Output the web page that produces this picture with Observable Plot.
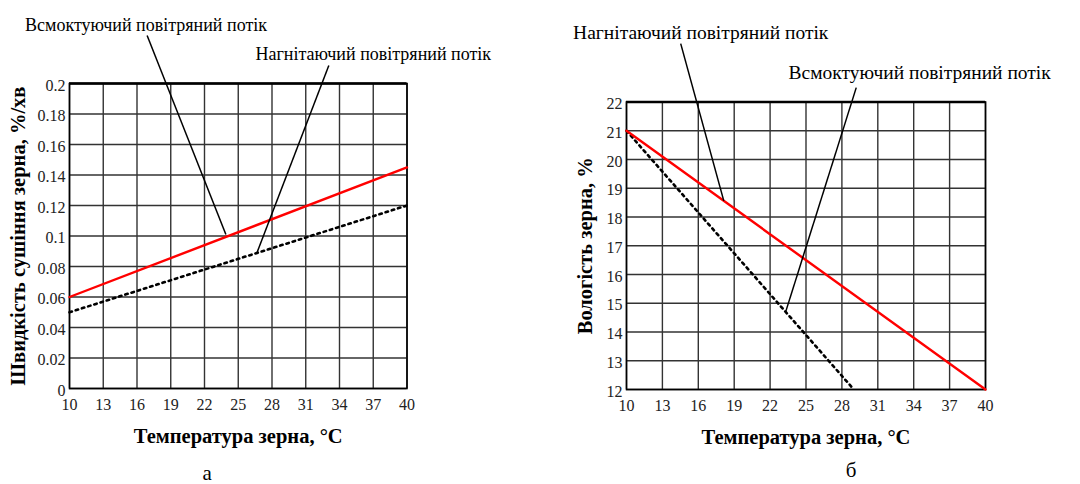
<!DOCTYPE html>
<html>
<head>
<meta charset="utf-8">
<script src="https://cdn.jsdelivr.net/npm/d3@7"></script>
<script src="https://cdn.jsdelivr.net/npm/@observablehq/plot@0.6"></script>
<style>
  html, body { margin: 0; padding: 0; background: #fff; }
  #wrap { position: relative; width: 1080px; height: 484px; overflow: hidden; }
  #left, #right { position: absolute; top: 0; }
  #left { left: 0; }
  #right { left: 540px; }
</style>
</head>
<body>
<div id="wrap"><div id="left"></div><div id="right"></div></div>
<script>
// ---- shared ----
const xTicks = [10, 13, 16, 19, 22, 25, 28, 31, 34, 37, 40];
const xTitle = "Температура зерна, °C";
const labelSuction = "Всмоктуючий повітряний потік";
const labelPressure = "Нагнітаючий повітряний потік";

// ---- panel а: drying rate ----
const aYTicks = [0, 0.02, 0.04, 0.06, 0.08, 0.1, 0.12, 0.14, 0.16, 0.18, 0.2];
const aTemps = [10, 40];
const aSuction = [0.06, 0.145];   // red solid
const aPressure = [0.05, 0.12];   // black dotted
const aYTitle = "Швидкість сушіння зерна, %/хв";
const aCaption = "а";
// annotation label centres and pointer lines (data units)
const aLabels = [
  {text: labelSuction, x: 16.8, y: 0.238},
  {text: labelPressure, x: 37.0, y: 0.219}
];
const aPointers = [
  {x1: 16.9, y1: 0.2315, x2: 23.9, y2: 0.101},
  {x1: 33.05, y1: 0.2118, x2: 26.68, y2: 0.0894}
];

// ---- panel б: moisture ----
const bYTicks = [12, 13, 14, 15, 16, 17, 18, 19, 20, 21, 22];
const bPressureTemps = [10, 40];
const bPressure = [21, 12];       // red solid
const bSuctionTemps = [10, 29];
const bSuction = [21, 12];        // black dotted
const bYTitle = "Вологість зерна, %";
const bCaption = "б";
const bLabels = [
  {text: labelPressure, x: 16.2, y: 24.42},
  {text: labelSuction, x: 34.5, y: 23.03}
];
const bPointers = [
  {x1: 14.53, y1: 24.03, x2: 18.13, y2: 18.56},
  {x1: 29.2, y1: 22.5, x2: 23.3, y2: 14.7}
];

const serif = "Liberation Serif";
const tickFont = "Liberation Sans Narrow";

function panel({yDomain, yTicks, redX, redY, dotX, dotY, labels, pointers, yTitle, caption, m, yTitleDx, labelSize, captionDx, captionDy}) {
  const red = redX.map((x, i) => ({x, y: redY[i]}));
  const dot = dotX.map((x, i) => ({x, y: dotY[i]}));
  return Plot.plot({
    width: 540,
    height: 484,
    marginLeft: m.left, marginRight: m.right, marginTop: m.top, marginBottom: m.bottom,
    style: {background: "white", fontFamily: tickFont, fontSize: "16px", color: "#111"},
    x: {domain: [10, 40]},
    y: {domain: yDomain},
    marks: [
      Plot.gridX(xTicks, {stroke: "#333", strokeOpacity: 1, strokeWidth: 1.4}),
      Plot.gridY(yTicks, {stroke: "#333", strokeOpacity: 1, strokeWidth: 1.4}),
      Plot.frame({stroke: "black", strokeWidth: 1.6}),
      Plot.ruleY([yDomain[1]], {stroke: "black", strokeWidth: 2.6}),
      Plot.axisX(xTicks, {tickSize: 0, tickPadding: 10, label: null, fontSize: 16, fontFamily: tickFont, fill: "#222"}),
      Plot.axisY(yTicks, {tickSize: 0, tickPadding: 4, label: null, tickFormat: d => String(d), fontSize: 16, fontFamily: tickFont, fill: "#222", dy: 2}),
      Plot.line(dot, {x: "x", y: "y", stroke: "black", strokeWidth: 2.6, strokeDasharray: "2.5,4"}),
      Plot.line(red, {x: "x", y: "y", stroke: "#ff0000", strokeWidth: 2.4}),
      Plot.link(pointers, {x1: "x1", y1: "y1", x2: "x2", y2: "y2", stroke: "black", strokeWidth: 1.5}),
      Plot.text(labels, {x: "x", y: "y", text: "text", fontFamily: serif, fontSize: labelSize, fill: "black", textAnchor: "middle"}),
      Plot.text([yTitle], {frameAnchor: "left", dx: yTitleDx, rotate: -90, textAnchor: "middle", fontFamily: serif, fontWeight: "bold", fontSize: 20.5, fill: "black", lineAnchor: "middle"}),
      Plot.text([xTitle], {frameAnchor: "bottom", dy: 48, fontFamily: serif, fontWeight: "bold", fontSize: 20.5, fill: "black", lineAnchor: "middle"}),
      Plot.text([caption], {frameAnchor: "bottom", dy: captionDy, dx: captionDx, fontFamily: serif, fontSize: 21, fill: "black", lineAnchor: "middle"})
    ]
  });
}

document.getElementById("left").append(panel({
  yDomain: [0, 0.2], yTicks: aYTicks,
  redX: aTemps, redY: aSuction, dotX: aTemps, dotY: aPressure,
  labels: aLabels, pointers: aPointers, yTitle: aYTitle, caption: aCaption,
  m: {left: 69, right: 133.5, top: 83, bottom: 96}, yTitleDx: -51.5, labelSize: 18, captionDx: -31, captionDy: 85
}));

document.getElementById("right").append(panel({
  yDomain: [12, 22], yTicks: bYTicks,
  redX: bPressureTemps, redY: bPressure, dotX: bSuctionTemps, dotY: bSuction,
  labels: bLabels, pointers: bPointers, yTitle: bYTitle, caption: bCaption,
  m: {left: 86, right: 95, top: 101.5, bottom: 95}, yTitleDx: -41, labelSize: 19.5, captionDx: 45, captionDy: 81
}));
</script>
</body>
</html>
